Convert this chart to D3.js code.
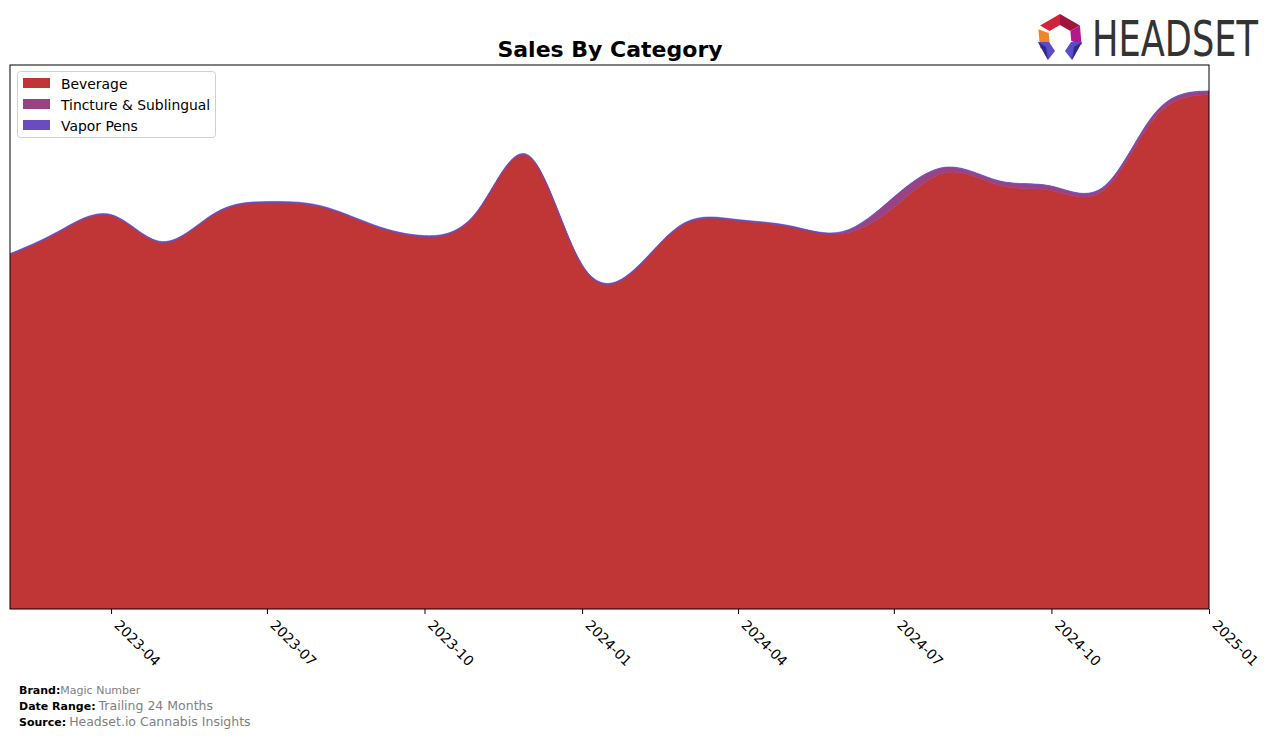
<!DOCTYPE html>
<html>
<head>
<meta charset="utf-8">
<script src="https://cdn.jsdelivr.net/npm/d3@7"></script>
<style>
  html, body { margin: 0; padding: 0; background: #fff; }
  svg { display: block; font-family: "DejaVu Sans", sans-serif; }
</style>
</head>
<body>
<svg id="chart" width="1276" height="738"></svg>
<script>
// ---- Data (monthly, values in $K) ----
const months = ["2023-02","2023-03","2023-04","2023-05","2023-06","2023-07","2023-08","2023-09",
  "2023-10","2023-11","2023-12","2024-01","2024-02","2024-03","2024-04","2024-05","2024-06",
  "2024-07","2024-08","2024-09","2024-10","2024-11","2024-12","2025-01"];
const categories = ["Beverage", "Tincture & Sublingual", "Vapor Pens"];
const beverage = [35.4, 37.6, 39.3, 36.6, 39.5, 40.6, 40.2, 38.3, 37.2, 39.7, 45.2, 34.3,
  33.9, 38.5, 38.8, 38.2, 37.5, 40.1, 43.6, 42.3, 41.8, 41.9, 49.2, 51.4];
const tincture = [0, 0, 0, 0, 0, 0, 0, 0, 0, 0, 0, 0, 0, 0, 0, 0, 0.1, 1.0, 0.5, 0.4, 0.4, 0.3, 0.4, 0.3];
const vaporPens = [0.1, 0.1, 0.1, 0.1, 0.1, 0.1, 0.1, 0.1, 0.1, 0.1, 0.1, 0.1, 0.1, 0.1, 0.1,
  0.1, 0.1, 0.05, 0.05, 0.05, 0.05, 0.05, 0.05, 0.05];
const tickLabels = ["2023-04","2023-07","2023-10","2024-01","2024-04","2024-07","2024-10","2025-01"];
const colors = ["#c03535", "#9b4280", "#6a4cc0"];

// ---- Layout ----
const svg = d3.select("#chart");
const M = { left: 10, right: 1209, top: 65, bottom: 609 };
const parse = d3.timeParse("%Y-%m");
const fmt = d3.timeFormat("%Y-%m");

const rows = months.map((m, i) => ({
  date: parse(m),
  "Beverage": beverage[i],
  "Tincture & Sublingual": tincture[i],
  "Vapor Pens": vaporPens[i]
}));

const stack = d3.stack().keys(categories);
const series = stack(rows);
const maxTotal = d3.max(series[series.length - 1], d => d[1]);

const x = d3.scaleTime()
  .domain([parse(months[0]), parse(months[months.length - 1])])
  .range([M.left, M.right]);
const y = d3.scaleLinear()
  .domain([0, maxTotal * 1.05])
  .range([M.bottom, M.top]);

const area = d3.area()
  .x(d => x(d.data.date))
  .y0(d => y(d[0]))
  .y1(d => y(d[1]))
  .curve(d3.curveNatural);

svg.append("defs").append("clipPath").attr("id", "clip")
  .append("rect").attr("x", M.left).attr("y", M.top)
  .attr("width", M.right - M.left).attr("height", M.bottom - M.top);

svg.append("g").attr("clip-path", "url(#clip)")
  .selectAll("path").data(series).join("path")
  .attr("d", area)
  .attr("fill", (d, i) => colors[i])
  .attr("stroke", (d, i) => colors[i])
  .attr("stroke-width", 0.6);

// ---- Axes frame ----
svg.append("rect")
  .attr("x", M.left).attr("y", M.top)
  .attr("width", M.right - M.left).attr("height", M.bottom - M.top)
  .attr("fill", "none").attr("stroke", "#000").attr("stroke-width", 1);

const xAxis = d3.axisBottom(x)
  .tickValues(tickLabels.map(parse))
  .tickFormat(fmt)
  .tickSize(5)
  .tickSizeOuter(0);

const gx = svg.append("g")
  .attr("transform", `translate(0,${M.bottom})`)
  .call(xAxis);
gx.select(".domain").remove();
gx.selectAll(".tick line").attr("stroke", "#000");
gx.selectAll(".tick text")
  .attr("font-family", "DejaVu Sans")
  .attr("font-size", 13.9)
  .attr("fill", "#000")
  .attr("text-anchor", "start")
  .attr("dy", null)
  .attr("y", 0)
  .attr("transform", "translate(2,17) rotate(45)");

// ---- Title ----
svg.append("text")
  .attr("x", 610).attr("y", 57)
  .attr("text-anchor", "middle")
  .attr("font-family", "DejaVu Sans")
  .attr("font-weight", "bold")
  .attr("font-size", 22)
  .text("Sales By Category");

// ---- Legend ----
const lg = svg.append("g");
lg.append("rect")
  .attr("x", 17.5).attr("y", 71.5).attr("width", 198).attr("height", 66)
  .attr("rx", 3).attr("fill", "#fff").attr("fill-opacity", 0.8)
  .attr("stroke", "#d0d0d0");
categories.forEach((c, i) => {
  const yy = 78 + i * 21;
  lg.append("rect").attr("x", 23).attr("y", yy).attr("width", 27).attr("height", 10)
    .attr("fill", colors[i]);
  lg.append("text").attr("x", 61).attr("y", yy + 11)
    .attr("font-family", "DejaVu Sans").attr("font-size", 13.9).attr("fill", "#000")
    .text(c);
});

// ---- Footer ----
const foot = [
  { k: "Brand:", v: "Magic Number", y: 694, vs: 11 },
  { k: "Date Range:", v: "Trailing 24 Months", y: 710, vs: 12.5 },
  { k: "Source:", v: "Headset.io Cannabis Insights", y: 726, vs: 12.5 }
];
foot.forEach(f => {
  const t = svg.append("text").attr("x", 19).attr("y", f.y)
    .attr("font-family", "DejaVu Sans");
  t.append("tspan").attr("font-weight", "bold").attr("font-size", 11).attr("fill", "#000").text(f.k);
  t.append("tspan").attr("font-size", f.vs).attr("fill", "#808080")
    .attr("dx", f.k === "Brand:" ? 0 : 3).text(f.v);
});

// ---- Logo ----
const logo = svg.append("g").attr("transform", "translate(1060,37)");
const R = 23, r = 12;
const segs = [
  { a0: -150, a1: -90, c: "#d4213c" },
  { a0: -90, a1: -30, c: "#a0153e" },
  { a0: -30, a1: 20, c: "#b5188a" },
  { a0: 200, a1: 150, c: "#f0852a" }
];
function pt(rad, deg) { const a = deg * Math.PI / 180; return [rad * Math.cos(a), rad * Math.sin(a)]; }
segs.forEach(s => {
  const p = [pt(R, s.a0), pt(R, s.a1), pt(r, s.a1), pt(r, s.a0)];
  logo.append("polygon").attr("points", p.map(q => q.join(",")).join(" ")).attr("fill", s.c);
});
logo.append("polygon").attr("points", "-22,5 -11,5 -5,14 -12,23").attr("fill", "#5a4bc8");
logo.append("polygon").attr("points", "-22,5 -12,23 -14,10").attr("fill", "#2e2a8a");
logo.append("polygon").attr("points", "22,5 11,5 5,14 12,23").attr("fill", "#5a4bc8");
logo.append("polygon").attr("points", "22,5 12,23 14,10").attr("fill", "#2e2a8a");
const logoText = svg.append("text")
  .attr("x", 0).attr("y", 0)
  .attr("font-family", "DejaVu Sans")
  .attr("font-size", 49)
  .attr("fill", "#333")
  .text("HEADSET");
const natural = logoText.node().getComputedTextLength();
logoText.attr("transform", `translate(1092,56) scale(${166 / natural},1)`);
</script>
</body>
</html>
